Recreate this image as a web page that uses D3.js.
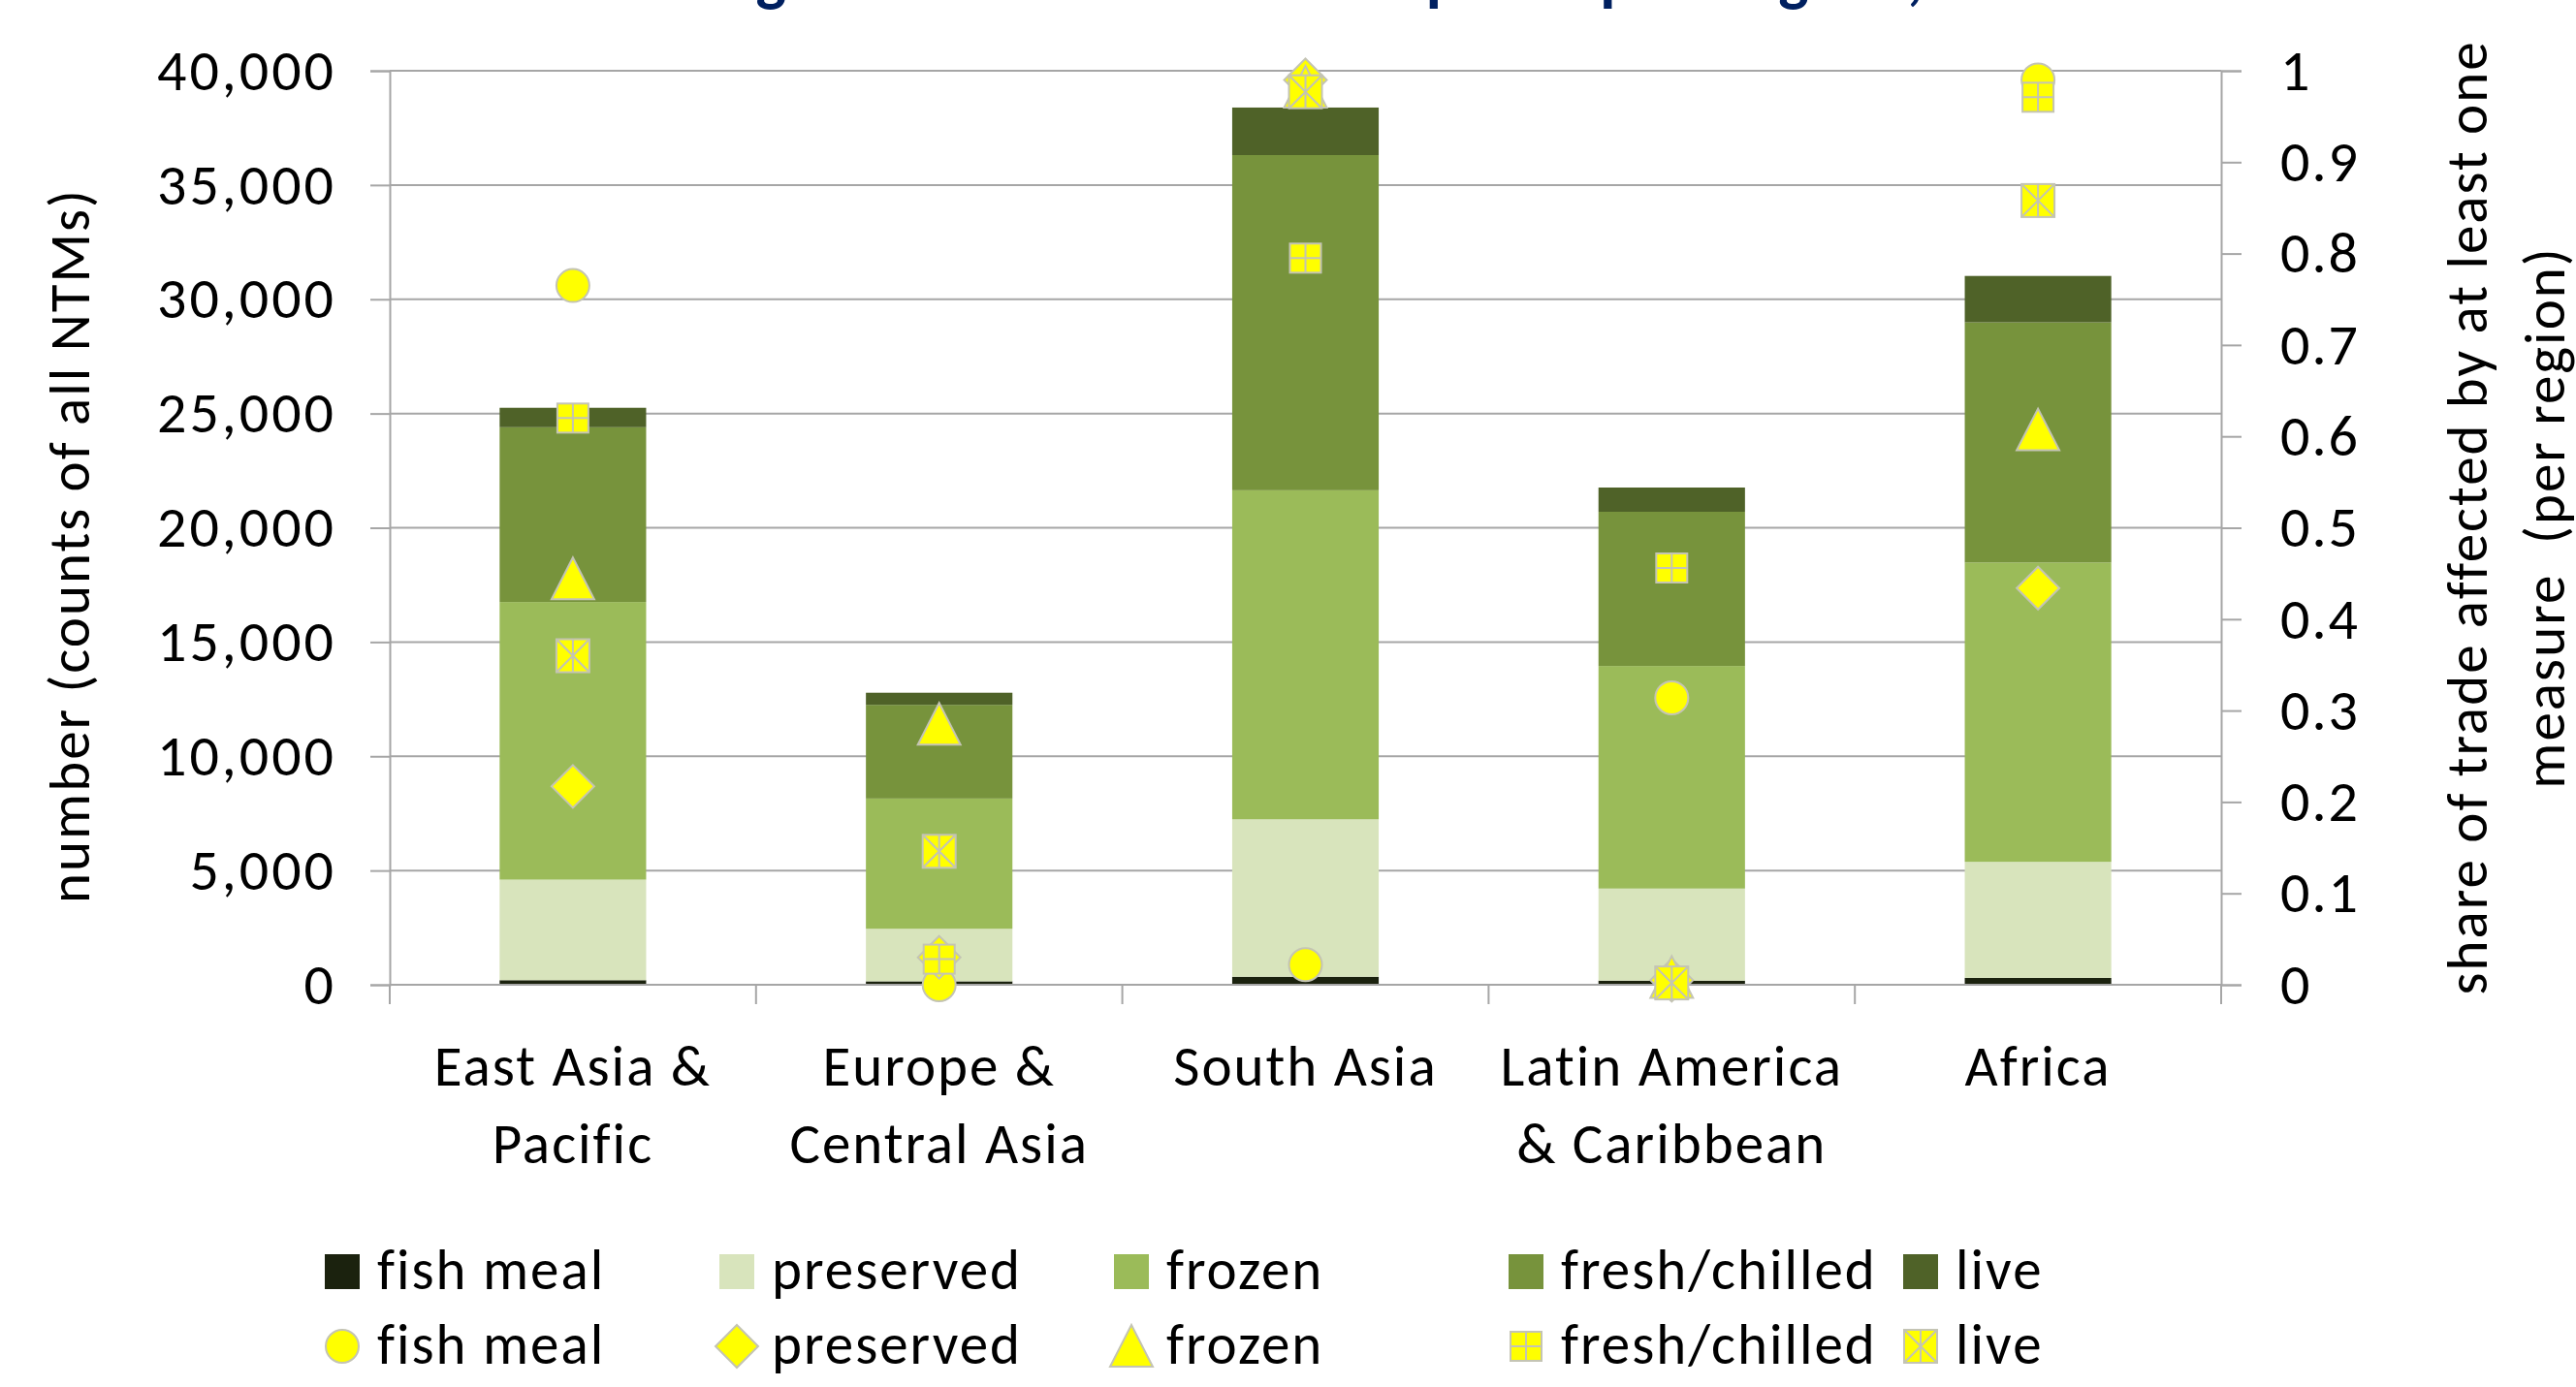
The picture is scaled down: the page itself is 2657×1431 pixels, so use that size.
<!DOCTYPE html>
<html>
<head>
<meta charset="utf-8">
<script src="https://cdn.jsdelivr.net/npm/d3@7"></script>
<style>
  html, body { margin: 0; padding: 0; background: #fff; }
  svg { display: block; font-family: Calibri, Carlito, Lato, sans-serif; }
</style>
</head>
<body>
<svg id="chart" width="2657" height="1431"></svg>
<script>
// categories (regions) and their wrapped labels
const categories = ["East Asia & Pacific", "Europe & Central Asia", "South Asia", "Latin America & Caribbean", "Africa"];
const categoryLines = [["East Asia &", "Pacific"], ["Europe &", "Central Asia"], ["South Asia"], ["Latin America", "& Caribbean"], ["Africa"]];

// stacked bars: number of NTMs (left axis)
const fishMeal     = [200, 150, 350, 180, 300];
const preserved    = [4400, 2300, 6890, 4030, 5080];
const frozen       = [12150, 5700, 14400, 9740, 13100];
const freshChilled = [7650, 4100, 14670, 6750, 10510];
const live         = [850, 530, 2080, 1060, 2030];

// markers: share of trade affected (right axis)
const shareFishMeal     = [0.765, 0.0, 0.022, 0.314, 0.99];
const sharePreserved    = [0.217, 0.03, 0.99, 0.005, 0.434];
const shareFrozen       = [0.444, 0.285, 0.982, 0.008, 0.607];
const shareFreshChilled = [0.62, 0.028, 0.795, 0.456, 0.971];
const shareLive         = [0.36, 0.146, 0.977, 0.002, 0.858];

// tick labels
const leftTicks  = [0, 5000, 10000, 15000, 20000, 25000, 30000, 35000, 40000];
const rightTicks = [0, 0.1, 0.2, 0.3, 0.4, 0.5, 0.6, 0.7, 0.8, 0.9, 1];

const seriesNames = ["fish meal", "preserved", "frozen", "fresh/chilled", "live"];
const barColors   = ["#1b220e", "#d8e4bc", "#9bbb59", "#77933c", "#4f6228"];
const markerTypes = ["circle", "diamond", "triangle", "plus", "star"];

const svg = d3.select('#chart');
const plotLeft = 402, plotRight = 2291, plotTop = 73, plotBottom = 1016;
const gridColor = '#a6a6a6';
const markFill = '#ffff00', markStroke = '#c4c4b4';
const fs = 59, ls = 2;   // label font size and letter spacing

const x = d3.scaleBand().domain(categories).range([plotLeft, plotRight]).paddingInner(0.6).paddingOuter(0.3);
const y = d3.scaleLinear().domain([0, 40000]).range([plotBottom, plotTop]);
const y2 = d3.scaleLinear().domain([0, 1]).range([plotBottom, plotTop]);

// title, mostly cut off above the frame
svg.append('text')
  .attr('x', 726).attr('y', -2)
  .attr('font-size', 66).attr('font-weight', 'bold').attr('fill', '#002060')
  .attr('letter-spacing', 3.5)
  .text('Figure 2: NTMs on EU exports per region, 2014');

// gridlines
svg.append('g').selectAll('line')
  .data(leftTicks)
  .join('line')
  .attr('x1', plotLeft).attr('x2', plotRight)
  .attr('y1', d => y(d)).attr('y2', d => y(d))
  .attr('stroke', gridColor).attr('stroke-width', 2);

// stacked bars
const rows = categories.map((c, i) => ({
  cat: c, "fish meal": fishMeal[i], "preserved": preserved[i], "frozen": frozen[i],
  "fresh/chilled": freshChilled[i], "live": live[i]
}));
const stacked = d3.stack().keys(seriesNames)(rows);

svg.append('g').selectAll('g')
  .data(stacked)
  .join('g')
  .attr('fill', (d, i) => barColors[i])
  .selectAll('rect')
  .data(d => d)
  .join('rect')
  .attr('x', d => x(d.data.cat))
  .attr('width', x.bandwidth())
  .attr('y', d => y(d[1]))
  .attr('height', d => y(d[0]) - y(d[1]));

// left axis
const axL = svg.append('g')
  .attr('transform', `translate(${plotLeft},0)`)
  .call(d3.axisLeft(y).tickValues(leftTicks).tickFormat(d3.format(',')).tickSize(20).tickPadding(35))
  .attr('font-family', null);
axL.select('.domain').attr('stroke', gridColor).attr('stroke-width', 2);
axL.selectAll('.tick line').attr('stroke', gridColor).attr('stroke-width', 2);
axL.selectAll('.tick text').attr('font-size', 60).attr('letter-spacing', 3).attr('fill', '#000');

// right axis
const axR = svg.append('g')
  .attr('transform', `translate(${plotRight},0)`)
  .call(d3.axisRight(y2).tickValues(rightTicks).tickFormat(d => String(+d.toFixed(1))).tickSize(21).tickPadding(40))
  .attr('font-family', null);
axR.select('.domain').attr('stroke', gridColor).attr('stroke-width', 2);
axR.selectAll('.tick line').attr('stroke', gridColor).attr('stroke-width', 2);
axR.selectAll('.tick text').attr('font-size', 60).attr('letter-spacing', 2).attr('fill', '#000');

// category axis: line and boundary ticks
const gap = (x.step() - x.bandwidth()) / 2;
const bounds = categories.map(c => x(c) - gap).concat([x(categories[categories.length - 1]) + x.bandwidth() + gap]);
svg.append('line')
  .attr('x1', plotLeft).attr('x2', plotRight).attr('y1', plotBottom).attr('y2', plotBottom)
  .attr('stroke', gridColor).attr('stroke-width', 2);
svg.append('g').selectAll('line')
  .data(bounds)
  .join('line')
  .attr('x1', d => d).attr('x2', d => d)
  .attr('y1', plotBottom).attr('y2', plotBottom + 20)
  .attr('stroke', gridColor).attr('stroke-width', 2);

const catText = svg.append('g').selectAll('text')
  .data(categories)
  .join('text')
  .attr('text-anchor', 'middle')
  .attr('font-size', fs).attr('letter-spacing', ls)
  .attr('fill', '#000');
catText.each(function (c, i) {
  d3.select(this).selectAll('tspan')
    .data(categoryLines[i])
    .join('tspan')
    .attr('x', x(c) + x.bandwidth() / 2)
    .attr('y', (d, j) => 1120 + j * 80)
    .text(d => d);
});

// axis titles
svg.append('text')
  .attr('transform', 'translate(92,563) rotate(-90)')
  .attr('text-anchor', 'middle')
  .attr('font-size', fs).attr('letter-spacing', ls).attr('fill', '#000')
  .text('number (counts of all NTMs)');

const rTitle = svg.append('text')
  .attr('transform', 'translate(2565,534) rotate(-90)')
  .attr('text-anchor', 'middle')
  .attr('font-size', fs).attr('letter-spacing', ls).attr('fill', '#000');
rTitle.append('tspan').attr('x', 0).attr('dy', 0).text('share of trade affected by at least one');
rTitle.append('tspan').attr('x', 0).attr('dy', 80).attr('xml:space', 'preserve').text('measure  (per region)');

// marker drawing
function drawMarker(g, type) {
  g.attr('fill', markFill).attr('stroke', markStroke).attr('stroke-width', 2);
  if (type === 'circle') {
    g.append('circle').attr('r', 17);
  } else if (type === 'diamond') {
    g.append('path').attr('d', 'M0,-22L22,0L0,22L-22,0Z');
  } else if (type === 'triangle') {
    g.append('path').attr('d', 'M0,-22L22,21L-22,21Z');
  } else if (type === 'plus') {
    g.append('rect').attr('x', -16).attr('y', -15).attr('width', 32).attr('height', 30);
    g.append('path').attr('fill', 'none').attr('d', 'M-16,0H16M0,-15V15');
  } else if (type === 'star') {
    g.append('rect').attr('x', -17).attr('y', -17).attr('width', 34).attr('height', 34);
    g.append('path').attr('fill', 'none').attr('d', 'M-17,-17L17,17M-17,17L17,-17M0,-17V17');
  }
}

const shares = [shareFishMeal, sharePreserved, shareFrozen, shareFreshChilled, shareLive];
shares.forEach((vals, s) => {
  svg.append('g').selectAll('g')
    .data(vals)
    .join('g')
    .attr('transform', (d, i) => `translate(${x(categories[i]) + x.bandwidth() / 2},${y2(d)})`)
    .each(function () { drawMarker(d3.select(this), markerTypes[s]); });
});

// legend
const legX = d3.scaleLinear().domain([0, 1]).range([335, 742]);
const leg1 = svg.append('g').selectAll('g')
  .data(seriesNames)
  .join('g')
  .attr('transform', (d, i) => `translate(${legX(i)},0)`);
leg1.append('rect')
  .attr('x', 0).attr('y', 1294).attr('width', 36).attr('height', 36)
  .attr('fill', (d, i) => barColors[i]);
leg1.append('text')
  .attr('x', 54).attr('y', 1330)
  .attr('font-size', fs).attr('letter-spacing', ls).attr('fill', '#000')
  .text(d => d);

const leg2 = svg.append('g').selectAll('g')
  .data(seriesNames)
  .join('g')
  .attr('transform', (d, i) => `translate(${legX(i)},0)`);
leg2.append('g')
  .attr('transform', 'translate(18,1389)')
  .each(function (d, i) { drawMarker(d3.select(this), markerTypes[i]); });
leg2.append('text')
  .attr('x', 54).attr('y', 1407)
  .attr('font-size', fs).attr('letter-spacing', ls).attr('fill', '#000')
  .text(d => d);
</script>
</body>
</html>
